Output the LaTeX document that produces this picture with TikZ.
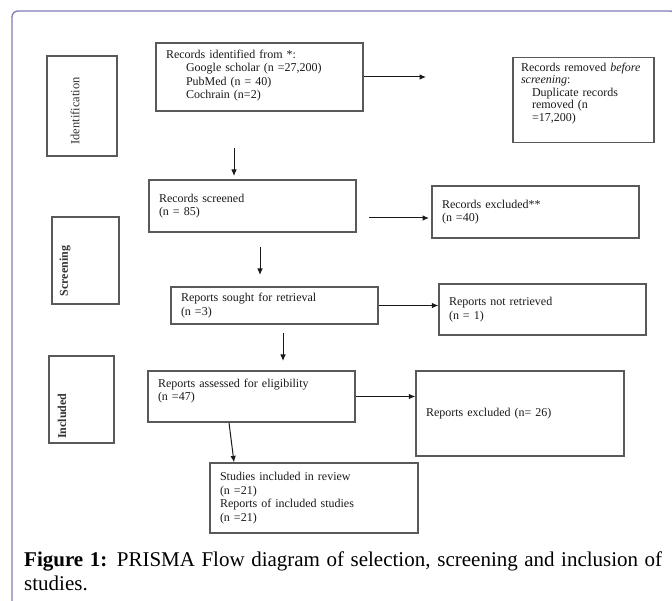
\documentclass[tikz,border=0pt]{standalone}
\usepackage{fontspec}
\setmainfont{Liberation Serif}
\usetikzlibrary{arrows.meta,calc}

\definecolor{framecol}{RGB}{125,125,185}

\tikzset{
    stagebox/.style={draw=black!65, line width=1.2pt},
    stagetxt/.style={rotate=90, inner sep=0pt, font=\fontsize{12.5}{13}\selectfont, text=black!80},
    flowbox/.style={draw=black!65, line width=1.2pt, align=left, inner xsep=10pt, inner ysep=5pt,
                    font=\fontsize{12}{13.5}\selectfont, text=black!90},
    flowarrow/.style={-{Latex[length=6.5pt,width=5.5pt]}, line width=1pt, draw=black!90},
    caption/.style={text width=638pt, align=justify, inner sep=0pt, font=\fontsize{21}{24}\selectfont}
}

\begin{document}
\begin{tikzpicture}[x=1pt, y=-1pt]
    \useasboundingbox (0,0) rectangle (672,601);

    % Frame round the figure
    \draw[framecol, line width=1.3pt, rounded corners=6pt] (12,610) -- (12,11) -- (676,11) -- (676,610);

    % Stage boxes on the left
    \node[stagebox, minimum width=70pt, minimum height=100pt] (identbox) at (82,106) {};
    \node[stagetxt] (ident) at (75,111) {Identification};

    \node[stagebox, minimum width=67pt, minimum height=87pt] (screenbox) at (85.5,260.5) {};
    \node[stagetxt, font=\fontsize{12}{13}\bfseries] (screen) at (65,271) {Screening};

    \node[stagebox, minimum width=65pt, minimum height=87pt] (inclbox) at (81.5,399.5) {};
    \node[stagetxt, font=\fontsize{12}{13}\bfseries] (incl) at (62,416) {Included};

    % Identification
    \node[flowbox, text width=187pt, minimum height=68pt, text depth=46pt] (recid) at (259.5,77) {Records identified from *:\\
        \hspace*{20pt}Google scholar (n =27,200)\\
        \hspace*{20pt}PubMed (n = 40)\\
        \hspace*{20pt}Cochrain (n=2)};
    \node[flowbox, inner xsep=8pt, text width=125pt, minimum height=84pt, text depth=66pt,
          font=\fontsize{12}{12.5}\selectfont] (recrem) at (583.5,100) {Records removed \textit{before}\\
        \textit{screening}:\\
        \hspace*{11pt}Duplicate records\\
        \hspace*{11pt}removed (n\\
        \hspace*{11pt}=17,200)};

    % Screening
    \node[flowbox, text width=187pt, minimum height=52pt] (recscr) at (252.5,206) {Records screened\\(n = 85)};
    \node[flowbox, text width=187pt, minimum height=52pt] (recexc) at (535.5,212) {Records excluded**\\(n =40)};
    \node[flowbox, text width=187pt, minimum height=37pt] (sought) at (274.5,305.5) {Reports sought for retrieval\\(n =3)};
    \node[flowbox, text width=187pt, minimum height=51pt] (notret) at (542.5,309.5) {Reports not retrieved\\(n = 1)};

    % Included
    \node[flowbox, text width=187pt, minimum height=51pt, text depth=27pt] (assessed) at (251.5,396.5) {Reports assessed for eligibility\\(n =47)};
    \node[flowbox, text width=188pt, minimum height=85pt] (repexc) at (520,413.5) {Reports excluded (n= 26)};
    \node[flowbox, text width=188pt, minimum height=70pt] (studies) at (314,498) {Studies included in review\\(n =21)\\Reports of included studies\\(n =21)};

    % Arrows
    \coordinate (recidend) at (426,77);
    \draw[flowarrow] (recid.east) -- (recidend);

    \coordinate (recscrstart) at (369,218);
    \coordinate (recscrend) at (429,218);
    \draw[flowarrow] (recscrstart) -- (recscrend);

    \draw[flowarrow] (sought.east) -- (sought.east -| notret.west);
    \draw[flowarrow] (assessed.east) -- (assessed.east -| repexc.west);
    \draw[flowarrow] ([xshift=-22.5pt]assessed.south) -- ([xshift=-80pt]studies.north);

    % Down arrows between the stages
    \foreach \ax/\ay [count=\i] in {234/148, 260/247, 283/333}{
        \coordinate (dtop\i) at (\ax,\ay);
        \coordinate (dbot\i) at (\ax,\ay+28);
        \draw[flowarrow] (dtop\i) -- (dbot\i);
    }

    % Caption
    \node[caption, anchor=north west] (cap) at (24,552) {\textbf{Figure 1:} PRISMA Flow diagram of selection, screening and inclusion of\linebreak studies.};
\end{tikzpicture}
\end{document}
